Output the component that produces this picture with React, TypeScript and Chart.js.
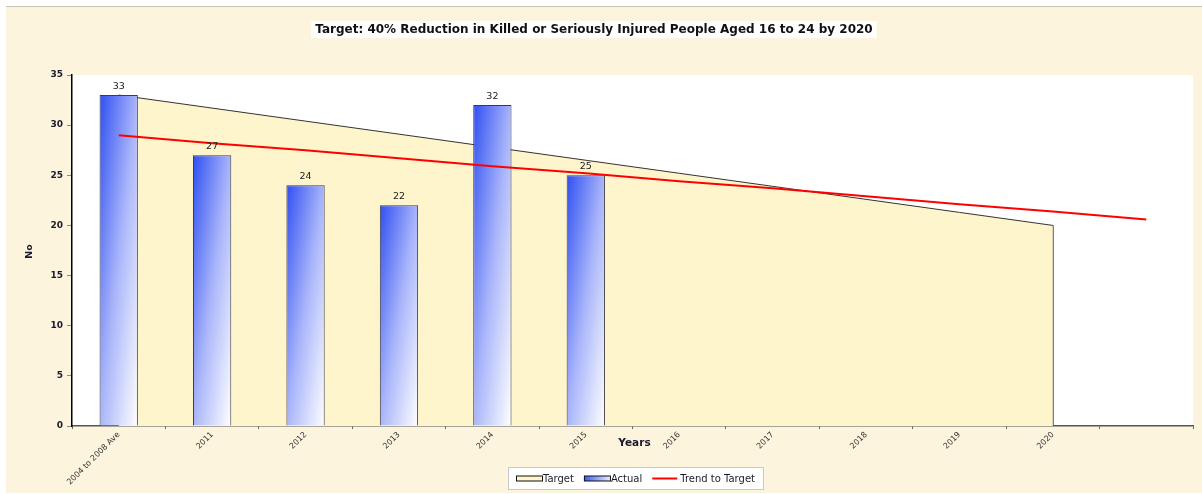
import React, { useEffect, useRef } from 'react';
import { Chart, registerables } from 'chart.js';

Chart.register(...registerables);

const categories = ['2004 to 2008 Ave', '2011', '2012', '2013', '2014', '2015', '2016', '2017', '2018', '2019', '2020', ''];
const actualValues = [33, 27, 24, 22, 32, 25, null, null, null, null, null, null];
const targetValues = [33, 31.7, 30.4, 29.1, 27.8, 26.5, 25.2, 23.9, 22.6, 21.3, 20, null];
const trendValues = [29.0, 28.2, 27.5, 26.7, 25.9, 25.2, 24.4, 23.7, 22.9, 22.1, 21.4, 20.6];
const targetEdge = [{ x: '2020', y: 20 }, { x: '2020', y: 0 }];
const yMin = 0;
const yMax = 35;
const yStep = 5;
const titleText = 'Target: 40% Reduction in Killed or Seriously Injured People Aged 16 to 24 by 2020';
const xTitle = 'Years';
const yTitle = 'No';
const legendLabels = ['Target', 'Actual', 'Trend to Target'];

const FONT = '"DejaVu Sans", Verdana, sans-serif';
const BAR_FRAC = 0.41;
const TARGET_FILL = '#fff5cc';

function barGradient(ctx: CanvasRenderingContext2D, left: number, top: number, w: number, h: number) {
  const k = 2 / (1 / (w * w) + 1 / (h * h));
  const g = ctx.createLinearGradient(left, top, left + k / w, top + k / h);
  g.addColorStop(0, '#2f4ff2');
  g.addColorStop(0.5, '#a9b5fa');
  g.addColorStop(1, '#ffffff');
  return g;
}

const decorPlugin = {
  id: 'decor',
  beforeDraw(chart: any) {
    const { ctx, chartArea } = chart;
    ctx.save();
    ctx.fillStyle = '#ffffff';
    ctx.fillRect(chartArea.left, chartArea.top, chartArea.right - chartArea.left, chartArea.bottom - chartArea.top);
    ctx.restore();
  },
  afterDatasetsDraw(chart: any) {
    const { ctx } = chart;
    const meta = chart.getDatasetMeta(1);
    ctx.save();
    ctx.font = `9.5px ${FONT}`;
    ctx.fillStyle = '#222';
    ctx.textAlign = 'center';
    ctx.textBaseline = 'bottom';
    meta.data.forEach((el: any, i: number) => {
      const v = actualValues[i];
      if (v == null) return;
      ctx.fillText(String(v), el.x, el.y - 4);
    });
    ctx.restore();
  },
  afterDraw(chart: any) {
    const { ctx, chartArea } = chart;
    const cx = (chartArea.left + chartArea.right) / 2;
    ctx.save();
    // Title
    ctx.font = `bold 12px ${FONT}`;
    const tw = ctx.measureText(titleText).width;
    const tx = 594;
    ctx.fillStyle = '#ffffff';
    ctx.fillRect(tx - tw / 2 - 4, 21, tw + 8, 17);
    ctx.fillStyle = '#111';
    ctx.textAlign = 'center';
    ctx.textBaseline = 'middle';
    ctx.fillText(titleText, tx, 29.5);

    // Axis titles
    ctx.font = `bold 10.5px ${FONT}`;
    ctx.fillStyle = '#1a1a2a';
    ctx.fillText(xTitle, cx + 2, chartArea.bottom + 17);
    ctx.save();
    ctx.translate(30, (chartArea.top + chartArea.bottom) / 2 + 1);
    ctx.rotate(-Math.PI / 2);
    ctx.font = `bold 9.5px ${FONT}`;
    ctx.fillText(yTitle, 0, 0);
    ctx.restore();

    // Legend
    ctx.font = `10px ${FONT}`;
    const sw = 27;
    const gap = 10;
    const widths = legendLabels.map((t) => ctx.measureText(t).width);
    const inner = widths.reduce((a, b) => a + b, 0) + sw * 3 + gap * 2 + 2;
    const padX = 8;
    const bw = inner + padX * 2;
    const bx = Math.round(cx + 3 - bw / 2);
    const by = 467;
    const bh = 23;
    ctx.fillStyle = '#ffffff';
    ctx.fillRect(bx, by, bw, bh);
    ctx.strokeStyle = '#c8c8c8';
    ctx.lineWidth = 1;
    ctx.strokeRect(bx + 0.5, by + 0.5, bw - 1, bh - 1);
    let x = bx + padX;
    const my = by + bh / 2;
    ctx.textAlign = 'left';
    ctx.textBaseline = 'middle';
    legendLabels.forEach((t, i) => {
      if (i === 0) {
        ctx.fillStyle = TARGET_FILL;
        ctx.fillRect(x, my - 2.5, sw, 5);
        ctx.strokeStyle = '#111';
        ctx.lineWidth = 1;
        ctx.strokeRect(x + 0.5, my - 2.5, sw - 1, 5);
      } else if (i === 1) {
        const g = ctx.createLinearGradient(x, 0, x + sw, 0);
        g.addColorStop(0, '#3a5af2');
        g.addColorStop(1, '#f0f2ff');
        ctx.fillStyle = g;
        ctx.fillRect(x, my - 2.5, sw, 5);
        ctx.strokeStyle = '#111';
        ctx.lineWidth = 1;
        ctx.strokeRect(x + 0.5, my - 2.5, sw - 1, 5);
      } else {
        ctx.strokeStyle = '#ff0000';
        ctx.lineWidth = 2;
        ctx.beginPath();
        ctx.moveTo(x, my);
        ctx.lineTo(x + sw - 2, my);
        ctx.stroke();
      }
      x += sw + (i === 2 ? 1 : 0);
      ctx.fillStyle = '#1a1a2a';
      ctx.fillText(t, x, my + 0.5);
      x += widths[i] + gap;
    });
    ctx.restore();
  },
};

export default function App() {
  const ref = useRef<HTMLCanvasElement | null>(null);

  useEffect(() => {
    if (!ref.current) return;
    const chart = new Chart(ref.current, {
      type: 'bar',
      data: {
        labels: categories,
        datasets: [
          {
            type: 'line',
            label: legendLabels[2],
            data: trendValues,
            borderColor: '#ff0000',
            borderWidth: 2,
            pointRadius: 0,
            fill: false,
            tension: 0,
            order: 0,
          } as any,
          {
            type: 'bar',
            label: legendLabels[1],
            data: actualValues,
            backgroundColor: (c: any) => {
              const chart = c.chart;
              const { chartArea, scales } = chart;
              if (!chartArea || c.type !== 'data' || !scales.x || !scales.y) return '#6a80f5';
              const v = actualValues[c.dataIndex];
              if (v == null) return 'rgba(0,0,0,0)';
              const xs = scales.x;
              const ys = scales.y;
              const cxp = xs.getPixelForValue(c.dataIndex);
              const w = (xs.width / categories.length) * BAR_FRAC;
              const top = ys.getPixelForValue(v);
              const h = ys.getPixelForValue(0) - top;
              return barGradient(chart.ctx, cxp - w / 2, top, w, h);
            },
            borderColor: '#3a3a4a',
            borderWidth: 1,
            categoryPercentage: 1,
            barPercentage: BAR_FRAC,
            order: 1,
          } as any,
          {
            type: 'line',
            label: legendLabels[0],
            data: targetValues,
            borderColor: '#333333',
            borderWidth: 1,
            backgroundColor: TARGET_FILL,
            fill: 'origin',
            pointRadius: 0,
            tension: 0,
            order: 2,
          } as any,
          {
            type: 'line',
            label: 'edge',
            data: targetEdge as any,
            borderColor: '#555555',
            borderWidth: 1,
            pointRadius: 0,
            fill: false,
            order: 2,
          } as any,
        ],
      },
      options: {
        animation: false,
        responsive: false,
        devicePixelRatio: 1,
        layout: { padding: { left: 0, right: 9, top: 75, bottom: 0 } },
        plugins: {
          legend: { display: false },
          title: { display: false },
          tooltip: { enabled: false },
        },
        scales: {
          x: {
            type: 'category',
            offset: true,
            afterFit: (s: any) => {
              s.height = 68;
            },
            grid: {
              display: true,
              offset: true,
              drawOnChartArea: false,
              drawTicks: true,
              tickLength: 3,
              color: '#666',
            },
            border: { display: true, color: '#555', width: 1.5 },
            ticks: {
              autoSkip: false,
              minRotation: 45,
              maxRotation: 45,
              padding: 1,
              color: '#333',
              font: { family: FONT, size: 8 },
            },
          },
          y: {
            type: 'linear',
            min: yMin,
            max: yMax,
            afterFit: (s: any) => {
              s.width = 72;
            },
            grid: {
              display: true,
              drawOnChartArea: false,
              drawTicks: true,
              tickLength: 5,
              color: '#888',
            },
            border: { display: true, color: '#000', width: 1.5 },
            ticks: {
              stepSize: yStep,
              padding: 4,
              color: '#1a1a2a',
              font: { family: FONT, size: 9, weight: 'bold' },
            },
          },
        },
      },
      plugins: [decorPlugin],
    });
    return () => chart.destroy();
  }, []);

  return (
    <div style={{ position: 'absolute', left: 0, top: 0, width: 1202, height: 494, background: '#ffffff' }}>
      <div
        style={{
          position: 'absolute',
          left: 6,
          top: 6,
          width: 1196,
          height: 487,
          background: '#fcf4dd',
          borderTop: '1px solid #c9c4b8',
          boxSizing: 'border-box',
        }}
      />
      <canvas ref={ref} width={1202} height={494} style={{ position: 'absolute', left: 0, top: 0, width: 1202, height: 494 }} />
    </div>
  );
}
